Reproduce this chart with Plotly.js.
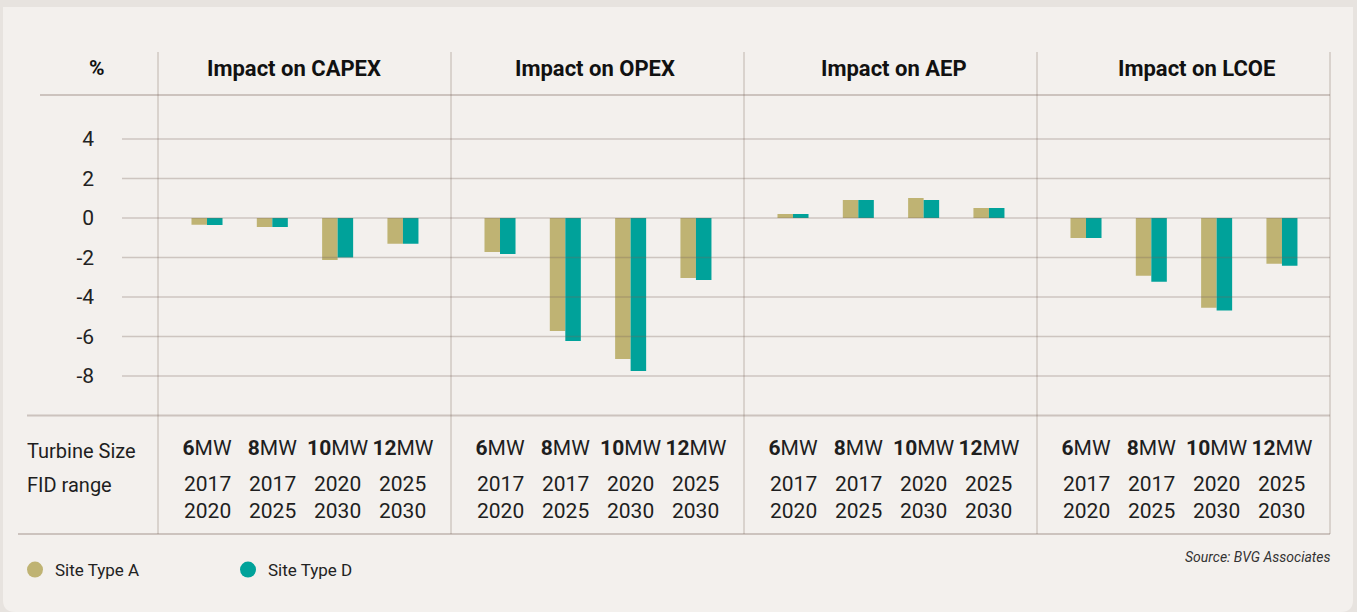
<!DOCTYPE html>
<html>
<head>
<meta charset="utf-8">
<script src="https://cdn.plot.ly/plotly-3.0.1.min.js"></script>
<style>html,body{margin:0;padding:0;background:#e7e3df;}#chart{width:1357px;height:612px;}</style>
</head>
<body>
<div id="chart"></div>
<script>
// ---- data ----
const categories = ["6MW", "8MW", "10MW", "12MW"];
const turbineSizes = [6, 8, 10, 12];
const fidStart = [2017, 2017, 2020, 2025];
const fidEnd = [2020, 2025, 2030, 2030];
const panelTitles = ["Impact on CAPEX", "Impact on OPEX", "Impact on AEP", "Impact on LCOE"];
const seriesNames = ["Site Type A", "Site Type D"];
const capexA = [-0.34, -0.46, -2.13, -1.30];
const capexD = [-0.35, -0.46, -2.00, -1.30];
const opexA = [-1.72, -5.72, -7.14, -3.04];
const opexD = [-1.82, -6.23, -7.75, -3.14];
const aepA = [0.20, 0.91, 1.01, 0.50];
const aepD = [0.20, 0.91, 0.91, 0.50];
const lcoeA = [-1.01, -2.92, -4.54, -2.32];
const lcoeD = [-1.01, -3.23, -4.69, -2.42];
const yTickVals = [4, 2, 0, -2, -4, -6, -8];
const yTickText = ["4", "2", "0", "-2", "-4", "-6", "-8"];

// ---- styling / layout ----
const W = 1357, H = 612;
const X = px => px / W;
const Y = py => 1 - py / H;
const colA = "#bfb373";
const colD = "#00a29a";
const FONT = "Roboto, 'Open Sans', sans-serif";
const panelLeft = [158, 451, 744, 1037];
const titleCenters = [294, 595, 894, 1196];

const seriesA = [capexA, opexA, aepA, lcoeA];
const seriesD = [capexD, opexD, aepD, lcoeD];

const traces = [];
for (let p = 0; p < 4; p++) {
  const xa = p === 0 ? "x" : "x" + (p + 1);
  traces.push({type: "bar", x: categories, y: seriesA[p], xaxis: xa, yaxis: "y",
    marker: {color: colA}, name: seriesNames[0], showlegend: false, hoverinfo: "skip"});
  traces.push({type: "bar", x: categories, y: seriesD[p], xaxis: xa, yaxis: "y",
    marker: {color: colD}, name: seriesNames[1], showlegend: false, hoverinfo: "skip"});
}
// legend entries (circles)
traces.push({type: "scatter", mode: "markers", x: [null], y: [null], name: seriesNames[0],
  marker: {color: colA, size: 17, symbol: "circle"}, xaxis: "x", yaxis: "y"});
traces.push({type: "scatter", mode: "markers", x: [null], y: [null], name: seriesNames[1],
  marker: {color: colD, size: 17, symbol: "circle"}, xaxis: "x", yaxis: "y"});

const tickText = turbineSizes.map(s => "<b>" + s + "</b>MW");

const layout = {
  width: W, height: H,
  margin: {l: 0, r: 0, t: 0, b: 0, pad: 0},
  paper_bgcolor: "#e7e3df",
  plot_bgcolor: "rgba(0,0,0,0)",
  font: {family: FONT, color: "#1e1e1e"},
  barmode: "group",
  bargap: 0.525,
  bargroupgap: 0,
  showlegend: true,
  legend: {orientation: "h", x: X(15), y: Y(570), xanchor: "left", yanchor: "middle",
    bgcolor: "rgba(0,0,0,0)", font: {size: 17, family: FONT, color: "#222"},
    entrywidth: 168, entrywidthmode: "pixels", itemclick: false, itemdoubleclick: false},
  yaxis: {
    domain: [Y(415), Y(95)], range: [-9.975, 6.228], anchor: "free", position: X(94),
    tickvals: yTickVals, ticktext: yTickText, showgrid: false, zeroline: false, showline: false,
    ticks: "", tickfont: {size: 21, family: FONT, color: "#222"}, fixedrange: true
  },
  shapes: [],
  annotations: []
};

for (let p = 0; p < 4; p++) {
  const key = p === 0 ? "xaxis" : "xaxis" + (p + 1);
  const L = panelLeft[p];
  layout[key] = {
    domain: [X(L + 16.35), X(L + 277.6)], range: [-0.5, 3.5], anchor: "y",
    type: "category", categoryorder: "array", categoryarray: categories,
    tickvals: categories, ticktext: tickText,
    showgrid: false, zeroline: false, showline: false, ticks: "",
    ticklabelstandoff: 18,
    tickfont: {size: 21, family: FONT, color: "#1e1e1e"}, fixedrange: true
  };
  const xr = p === 0 ? "x" : "x" + (p + 1);
  categories.forEach((c, i) => {
    layout.annotations.push({xref: xr, yref: "paper", x: c, y: Y(497), xanchor: "center", yanchor: "middle",
      text: fidStart[i] + "<br>" + fidEnd[i], showarrow: false,
      font: {size: 21, family: FONT, color: "#1e1e1e"}});
  });
  layout.annotations.push({xref: "paper", yref: "paper", x: X(titleCenters[p]), y: Y(68),
    xanchor: "center", yanchor: "middle", text: "<b>" + panelTitles[p] + "</b>", showarrow: false,
    font: {size: 22, family: FONT, color: "#111"}});
}

layout.annotations.push(
  {xref: "paper", yref: "paper", x: X(97), y: Y(68), xanchor: "center", yanchor: "middle",
    text: "<b>%</b>", showarrow: false, font: {size: 21, family: FONT, color: "#111"}},
  {xref: "paper", yref: "paper", x: X(25), y: Y(451), xanchor: "left", yanchor: "middle",
    text: "Turbine Size", showarrow: false, font: {size: 20, family: FONT, color: "#1e1e1e"}},
  {xref: "paper", yref: "paper", x: X(25), y: Y(485), xanchor: "left", yanchor: "middle",
    text: "FID range", showarrow: false, font: {size: 20, family: FONT, color: "#1e1e1e"}},
  {xref: "paper", yref: "paper", x: X(1332), y: Y(557), xanchor: "right", yanchor: "middle",
    text: "<i>Source: BVG Associates</i>", showarrow: false, font: {size: 14, family: FONT, color: "#333"}}
);

// background panel with rounded bottom corners
const r = 12;
layout.shapes.push({type: "path", xref: "paper", yref: "paper", layer: "below",
  path: `M${X(3)},${Y(7)} L${X(1353)},${Y(7)} L${X(1353)},${Y(612 - r)} Q${X(1353)},${Y(612)} ${X(1353 - r)},${Y(612)} L${X(3 + r)},${Y(612)} Q${X(3)},${Y(612)} ${X(3)},${Y(612 - r)} Z`,
  fillcolor: "#f3f0ed", line: {width: 0}});

// grid lines (drawn above bars, semi-transparent)
yTickVals.forEach(v => {
  layout.shapes.push({type: "line", xref: "paper", yref: "y", x0: X(122), x1: X(1330), y0: v, y1: v,
    layer: "above", line: {color: "rgba(120,100,90,0.3)", width: 1.5}});
});
// header line, axis bottom line, table bottom line
layout.shapes.push({type: "line", xref: "paper", yref: "paper", x0: X(40), x1: X(1330), y0: Y(95), y1: Y(95),
  layer: "above", line: {color: "rgba(120,100,90,0.32)", width: 2}});
layout.shapes.push({type: "line", xref: "paper", yref: "paper", x0: X(27), x1: X(1330), y0: Y(415.5), y1: Y(415.5),
  layer: "above", line: {color: "rgba(120,100,90,0.32)", width: 2}});
layout.shapes.push({type: "line", xref: "paper", yref: "paper", x0: X(18), x1: X(1330), y0: Y(534), y1: Y(534),
  layer: "above", line: {color: "rgba(120,100,90,0.32)", width: 2}});
// vertical dividers
[158, 451, 744, 1037, 1330].forEach(px => {
  layout.shapes.push({type: "line", xref: "paper", yref: "paper", x0: X(px), x1: X(px), y0: Y(52), y1: Y(534),
    layer: "above", line: {color: "rgba(120,100,90,0.35)", width: 1.2}});
});

Plotly.newPlot("chart", traces, layout, {displayModeBar: false, staticPlot: true});
</script>
</body>
</html>
